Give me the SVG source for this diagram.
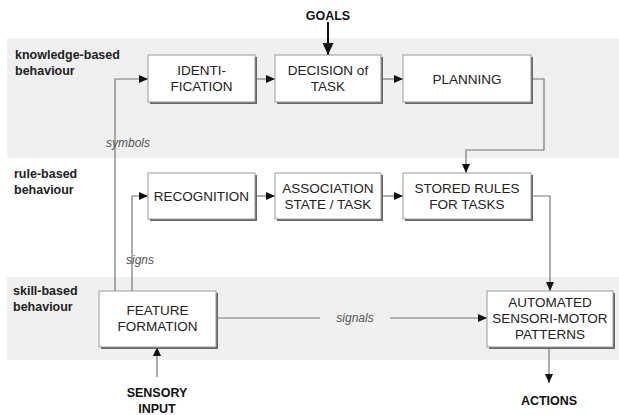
<svg xmlns="http://www.w3.org/2000/svg" width="619" height="415" viewBox="0 0 619 415">
<style>
.band{fill:#f0f0f0}
.lvl{font-family:"Liberation Sans",Arial,sans-serif;font-weight:bold;font-size:12.5px;fill:#222}
.box rect.b{fill:#fff;stroke:#999;stroke-width:1}
.box rect.s{fill:#666}
.bt{font-family:"Liberation Sans",Arial,sans-serif;font-size:13.5px;fill:#222;text-anchor:middle}
.io{font-family:"Liberation Sans",Arial,sans-serif;font-weight:bold;font-size:12.5px;fill:#111;text-anchor:middle}
.lab{font-family:"Liberation Sans",Arial,sans-serif;font-style:italic;font-size:12px;fill:#555;text-anchor:middle}
.c{fill:none;stroke:#777;stroke-width:1.2}
</style>
<defs>
<marker id="ah" viewBox="0 0 10 10" refX="10" refY="5" markerWidth="9" markerHeight="8" markerUnits="userSpaceOnUse" orient="auto" preserveAspectRatio="none">
<path d="M0,0 L10,5 L0,10 Z" fill="#111"/>
</marker>
<marker id="ahb" viewBox="0 0 10 10" refX="10" refY="5" markerWidth="12" markerHeight="11" markerUnits="userSpaceOnUse" orient="auto" preserveAspectRatio="none">
<path d="M0,0 L10,5 L0,10 Z" fill="#111"/>
</marker>
</defs>
<rect width="619" height="415" fill="#fff"/>
<rect class="band" x="7" y="38" width="612" height="120"/>
<rect class="band" x="7" y="277" width="612" height="83"/>
<g id="levels">
<text class="lvl" x="15" y="59">knowledge-based</text>
<text class="lvl" x="15" y="75">behaviour</text>
<text class="lvl" x="14" y="178">rule-based</text>
<text class="lvl" x="14" y="194">behaviour</text>
<text class="lvl" x="13" y="295">skill-based</text>
<text class="lvl" x="13" y="311">behaviour</text>
</g>
<g id="connectors">
<path d="M328,22 V55" fill="none" stroke="#111" stroke-width="2" marker-end="url(#ahb)"/>
<path class="c" d="M115,291 V79 H148" marker-end="url(#ah)"/>
<path class="c" d="M132,291 V196 H148" marker-end="url(#ah)"/>
<path class="c" d="M255,79 H275" marker-end="url(#ah)"/>
<path class="c" d="M381,79 H403" marker-end="url(#ah)"/>
<path class="c" d="M531,79 H544 V150 H466 V173" marker-end="url(#ah)"/>
<path class="c" d="M255,196 H275" marker-end="url(#ah)"/>
<path class="c" d="M381,196 H403" marker-end="url(#ah)"/>
<path class="c" d="M531,196 H550 V291" marker-end="url(#ah)"/>
<path class="c" d="M216,318 H320"/>
<path class="c" d="M390,318 H487" marker-end="url(#ah)"/>
<path class="c" d="M157,377 V347" marker-end="url(#ah)"/>
<path class="c" d="M549,347 V383" marker-end="url(#ah)"/>
<text class="lab" x="128" y="147">symbols</text>
<text class="lab" x="140" y="264">signs</text>
<text class="lab" x="355" y="322">signals</text>
</g>
<g id="goals"><text class="io" x="328" y="20">GOALS</text></g>
<g id="sensory"><text class="io" x="157" y="397">SENSORY</text><text class="io" x="157" y="413">INPUT</text></g>
<g id="actions"><text class="io" x="549" y="405">ACTIONS</text></g>
<g id="identification" class="box"><rect class="s" x="150" y="57" width="107" height="47"/><rect class="b" x="148" y="55" width="107" height="47"/><text class="bt" x="201.5" y="75">IDENTI-</text><text class="bt" x="201.5" y="91">FICATION</text></g>
<g id="decision" class="box"><rect class="s" x="277" y="57" width="106" height="47"/><rect class="b" x="275" y="55" width="106" height="47"/><text class="bt" x="328" y="75">DECISION of</text><text class="bt" x="328" y="91">TASK</text></g>
<g id="planning" class="box"><rect class="s" x="405" y="57" width="128" height="47"/><rect class="b" x="403" y="55" width="128" height="47"/><text class="bt" x="467" y="84">PLANNING</text></g>
<g id="recognition" class="box"><rect class="s" x="150" y="175" width="107" height="46"/><rect class="b" x="148" y="173" width="107" height="46"/><text class="bt" x="201.5" y="201">RECOGNITION</text></g>
<g id="association" class="box"><rect class="s" x="277" y="175" width="106" height="46"/><rect class="b" x="275" y="173" width="106" height="46"/><text class="bt" x="328" y="193">ASSOCIATION</text><text class="bt" x="328" y="209">STATE / TASK</text></g>
<g id="stored" class="box"><rect class="s" x="405" y="175" width="128" height="46"/><rect class="b" x="403" y="173" width="128" height="46"/><text class="bt" x="467" y="193">STORED RULES</text><text class="bt" x="467" y="209">FOR TASKS</text></g>
<g id="feature" class="box"><rect class="s" x="101" y="293" width="117" height="56"/><rect class="b" x="99" y="291" width="117" height="56"/><text class="bt" x="157.5" y="315">FEATURE</text><text class="bt" x="157.5" y="331">FORMATION</text></g>
<g id="automated" class="box"><rect class="s" x="489" y="293" width="126" height="56"/><rect class="b" x="487" y="291" width="126" height="56"/><text class="bt" x="550" y="307">AUTOMATED</text><text class="bt" x="550" y="323">SENSORI-MOTOR</text><text class="bt" x="550" y="339">PATTERNS</text></g>
</svg>
